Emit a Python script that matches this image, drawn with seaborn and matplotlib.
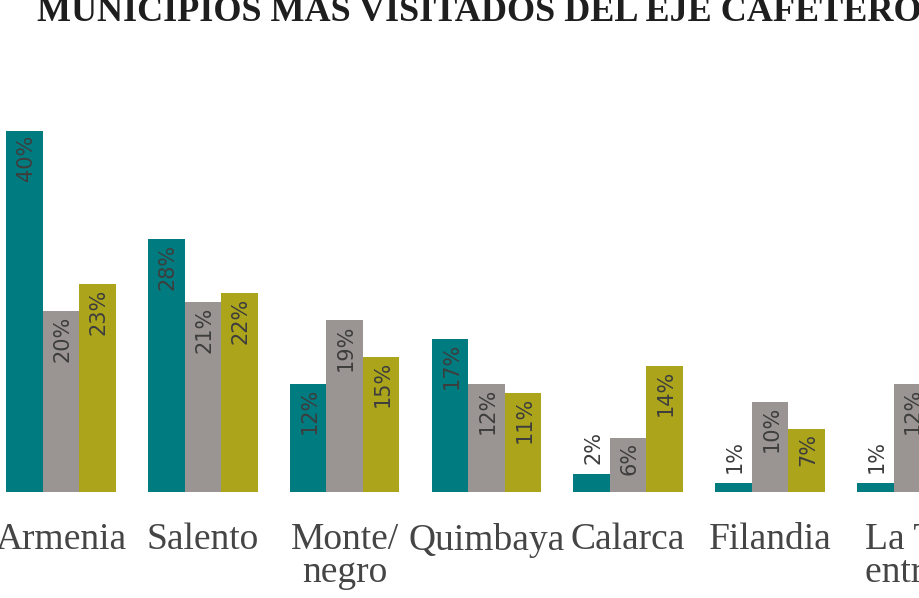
import matplotlib
matplotlib.use("Agg")
import pandas as pd
import seaborn as sns
import matplotlib.pyplot as plt
from matplotlib.transforms import ScaledTranslation

municipios = ["Armenia", "Salento", "Monte/\nnegro", "Quimbaya", "Calarca",
              "Filandia", "La Tebaida\nentre otros"]
series = ["Serie 1", "Serie 2", "Serie 3"]
serie_1 = [40, 28, 12, 17, 2, 1, 1]
serie_2 = [20, 21, 19, 12, 6, 10, 12]
serie_3 = [23, 22, 15, 11, 14, 7, 9]
colores = ["#007b80", "#9a9592", "#aca51b"]

rows = []
for nombre, valores in zip(series, [serie_1, serie_2, serie_3]):
    for m, v in zip(municipios, valores):
        rows.append({"municipio": m, "serie": nombre, "pct": v})
df = pd.DataFrame(rows)

sns.set_style("white")
plt.rcParams["font.family"] = ["Liberation Serif", "DejaVu Serif"]

fig = plt.figure(figsize=(9.2, 5.98), dpi=100)
ax = fig.add_axes([0, 0.1773, 1, 0.8227])
sns.barplot(data=df, x="municipio", y="pct", hue="serie", palette=colores,
            width=0.772, linewidth=0, saturation=1, legend=False, ax=ax)

ax.set_xlim(-0.430, 6.058)
ax.set_ylim(0, 54.5)
ax.set_yticks([])
ax.set_xlabel("")
ax.set_ylabel("")
sns.despine(ax=ax, left=True, bottom=True)
ax.tick_params(axis="x", length=0, pad=22, labelsize=27, labelcolor="#454545")
for lbl in ax.get_xticklabels():
    lbl.set_linespacing(0.95)

# last label is cut at the right edge, text starts left of its group centre
ultimo = ax.get_xticklabels()[-1]
ultimo.set_ha("left")
ultimo.set_transform(ultimo.get_transform() + ScaledTranslation(-0.47, 0, fig.dpi_scale_trans))

# value labels, rotated, inside the bar when it fits
for cont in ax.containers:
    for bar in cont:
        h = bar.get_height()
        x = bar.get_x() + bar.get_width() / 2
        if h >= 5:
            ax.annotate(f"{h:.0f}%", (x, h), xytext=(1, -3), textcoords="offset points",
                        rotation=90, ha="center", va="top", fontsize=15,
                        family="DejaVu Sans", color="#3d3d3d")
        else:
            ax.annotate(f"{h:.0f}%", (x, h), xytext=(1, 7), textcoords="offset points",
                        rotation=90, ha="center", va="bottom", fontsize=15,
                        family="DejaVu Sans", color="#3d3d3d")

fig.text(37 / 920, 1 - 21 / 598, "MUNICIPIOS MÁS VISITADOS DEL EJE CAFETERO",
         fontsize=26, fontweight="bold", family="Liberation Serif", color="#1e1e1e",
         ha="left", va="baseline")

fig.savefig("out.png", dpi=100)
